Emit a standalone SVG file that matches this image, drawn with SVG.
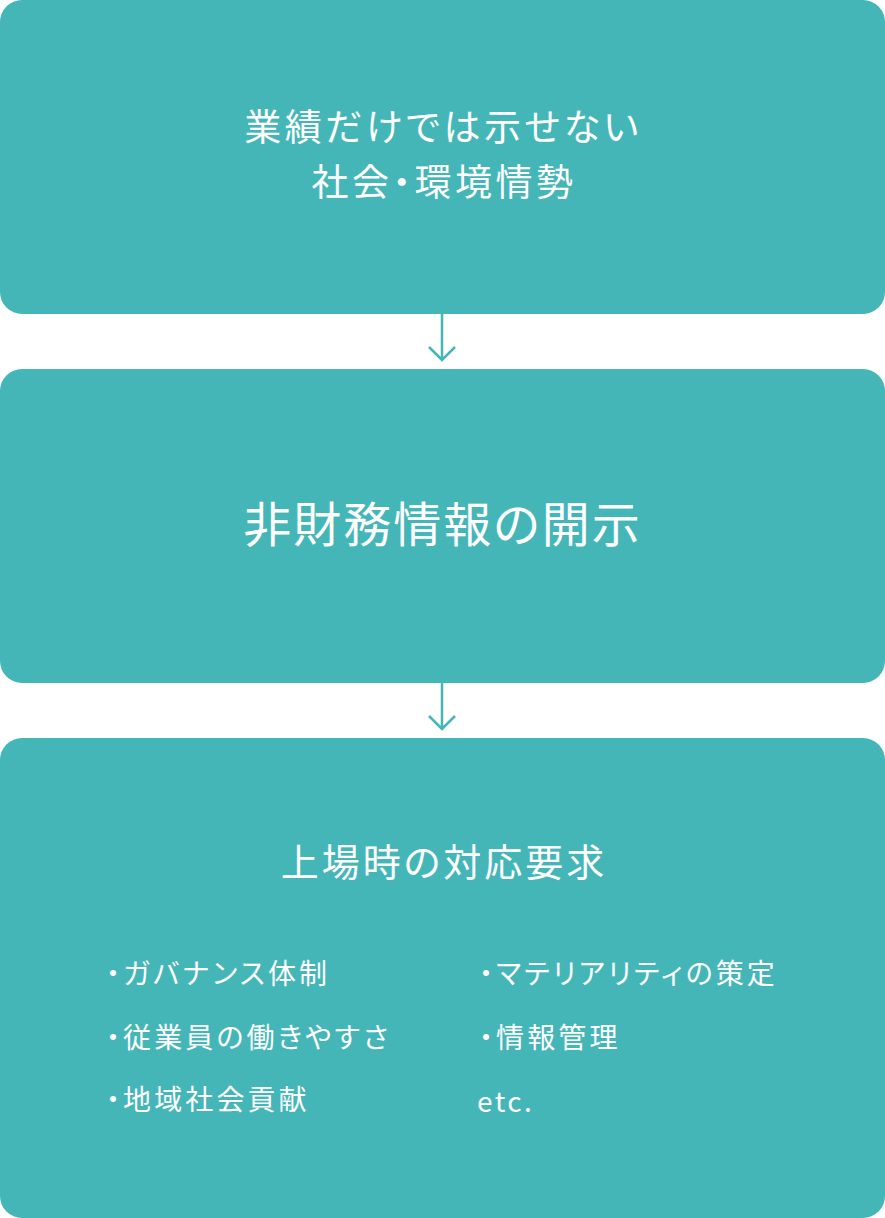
<svg xmlns="http://www.w3.org/2000/svg" width="885" height="1218" viewBox="0 0 885 1218">
<style>
.box{fill:#45b6b8}
text{fill:#ffffff;font-family:"Noto Sans CJK JP","Noto Sans",sans-serif;font-weight:400;font-feature-settings:"palt"}
.t1{font-size:37px;letter-spacing:3.5px}
.t2{font-size:48px;letter-spacing:2px}
.t3{font-size:38px;letter-spacing:3px}
.li{font-size:28px;letter-spacing:3.1px}
.arr{fill:none;stroke:#45b6b8;stroke-width:2.5}
</style>
<rect width="885" height="1218" fill="#ffffff"/>
<g id="connectors">
<path class="arr" d="M442 314V360M429 347L442 360L455 347"/>
<path class="arr" d="M442 683V729M429 716L442 729L455 716"/>
</g>
<g id="node1">
<rect class="box" x="0" y="0" width="885" height="314" rx="22"/>
<text class="t1" x="443" y="141" text-anchor="middle">業績だけでは示せない</text>
<text class="t1" x="444" y="196" text-anchor="middle">社会・環境情勢</text>
</g>
<g id="node2">
<rect class="box" x="0" y="369" width="885" height="314" rx="22"/>
<text class="t2" x="442.5" y="542" text-anchor="middle">非財務情報の開示</text>
</g>
<g id="node3">
<rect class="box" x="0" y="738" width="885" height="480" rx="22"/>
<text class="t3" x="444" y="876" text-anchor="middle">上場時の対応要求</text>
<text class="li" x="106" y="984">・ガバナンス体制</text>
<text class="li" x="106" y="1048">・従業員の働きやすさ</text>
<text class="li" x="106" y="1110">・地域社会貢献</text>
<text class="li" x="479" y="984">・マテリアリティの策定</text>
<text class="li" x="479" y="1048">・情報管理</text>
<text class="li" x="477" y="1112" style="letter-spacing:2.5px">etc.</text>
</g>
</svg>
